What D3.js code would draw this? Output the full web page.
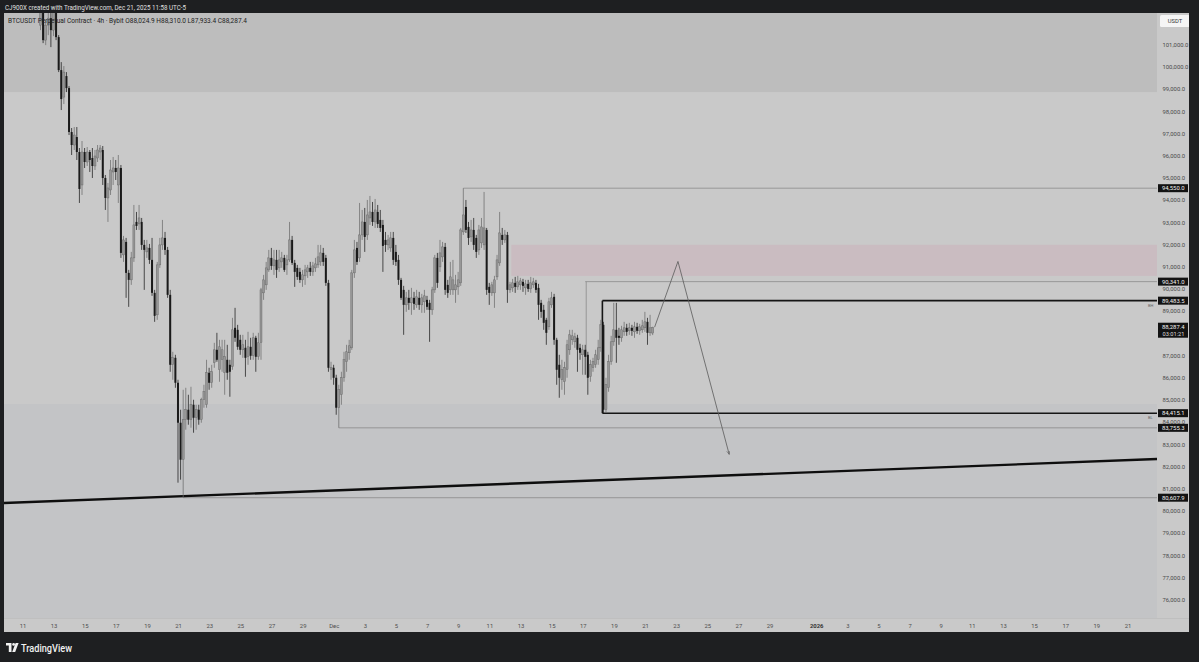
<!DOCTYPE html>
<html><head><meta charset="utf-8">
<script src="https://cdn.jsdelivr.net/npm/d3@7"></script>
<style>body{margin:0;background:#1e1f21;overflow:hidden}svg{display:block}text{font-family:Roboto,"Noto Sans",sans-serif}</style>
</head><body>
<svg id="c" width="1199" height="662"></svg>
<script>
// ---------- DATA ----------
const firstCandle = [2025, 10, 12, 3]; // Nov 12 2025 03:00, 4h candles
const opens = [101895,102480,101220,101895,102210,101670,102480,101355,99870,98655,99600,99060,97080,96495,96855,96180,94695,96180,95730,96180,95910,95550,95910,96180,96270,95010,94110,94470,95280,95460,94695,95460,91545,92130,90735,90420,91410,93030,92940,93030,91995,91680,91860,91320,89835,88845,91095,91995,92310,91770,89745,86595,86910,85785,83985,82320,84120,84570,84120,84795,84210,84570,84120,85020,84795,86235,85785,86685,87270,86370,86820,86235,86820,86595,86505,88260,88170,87720,87270,87360,86955,87405,87000,87810,86955,87600,89835,90195,90870,91410,91050,91320,90960,91230,91410,91095,91320,92220,91185,90960,90780,90420,90600,90780,90960,90780,90960,91095,91230,91635,91410,90285,86370,86460,86010,84660,85245,86010,86730,87135,87360,90735,91860,91410,92445,93030,92445,93210,93480,93030,93480,93120,92895,92220,91995,91860,92310,91680,91320,90420,89970,89295,89610,89385,89610,89295,89610,89295,89430,89520,89385,89070,89970,91410,91005,91455,91905,90195,89970,89970,89970,90105,90285,92580,93705,92805,92355,92670,92310,91770,92085,91995,92670,90105,89835,89835,90555,91185,92445,92220,92445,89970,90060,90285,90105,90195,90330,90060,90240,90015,90195,90285,90060,89385,89070,88620,88305,89295,89655,87720,86595,85920,85830,86370,87270,87720,87630,87810,87360,87045,87270,87045,86055,86460,86595,86820,87360,88395,84570,85560,86730,87630,88170,87900,87810,88080,88260,88125,88260,88080,88305,88125,88170,88260,88530,88035,88024.9];
const highs = [102795,102660,102120,102480,102570,102795,102660,101445,100230,100050,99780,99150,97260,97305,97305,96360,96675,96360,96405,96270,96360,96270,96495,96495,96450,95145,94785,95820,95955,95820,96045,95595,92400,92310,90870,91680,93795,93480,93795,93210,92220,92220,92040,92310,89970,91230,92310,93120,92580,91905,89970,87180,87045,85920,84570,85470,85560,85245,85605,85020,84795,84795,85110,85695,86820,86460,86595,87585,88035,87720,87720,87720,87495,86820,88710,89160,88395,87945,87945,87720,88080,87810,88035,87900,88035,90060,90645,91230,91770,91860,91770,91770,91770,91680,91545,91545,93030,92400,91320,91095,90960,90870,91095,91095,91230,91230,91410,91995,91995,91860,91545,90420,86730,86595,86145,85695,86280,87180,87495,87720,90870,92220,92130,93885,93570,93660,94020,94200,93930,94065,93795,93570,93120,92580,92445,92580,92580,91995,91545,90510,90150,89880,89970,90060,89880,89970,89880,89790,89970,89700,89520,90105,91545,91635,92220,92130,92085,90420,91230,91320,90645,90780,92760,94550,94020,93030,93120,93210,92445,92895,93210,94380,92760,90285,90330,90600,91545,93480,92760,92670,92580,90330,90465,90555,90600,90510,90465,90420,90420,90555,90510,90420,90240,89520,89295,88710,89610,89880,89790,87810,87045,86820,86730,87720,88170,88170,88035,87945,87540,87495,87495,87180,86820,86910,87270,87720,88620,88530,86010,87045,87900,89385,89385,88260,88350,88530,88440,88485,88395,88530,88485,88440,88620,88980,88710,88845,88310.0];
const lows = [101670,101085,100995,101445,100905,101400,101220,99780,98070,98340,98880,96945,96045,96270,95820,93885,94245,95460,95550,95280,95010,95370,95730,95820,94695,93570,93030,94245,94695,94920,93885,91410,91230,89610,89205,90195,91230,92670,92670,91770,89970,91410,91140,89700,88530,88620,90960,91770,91545,89610,86280,85920,85560,81285,81420,80607.9,83670,83895,83760,83535,83670,83895,83985,84660,84660,85470,85560,86460,86730,85830,86280,85245,85920,85155,86370,87630,87270,87045,86910,86055,86595,86820,86820,86280,86820,86820,89520,89970,90780,90870,90645,90510,90780,90960,90780,90645,91230,91095,90105,90420,90285,90105,90195,90510,90600,90600,90780,90960,91050,91050,90150,86280,85920,85695,84345,83755.3,84795,85830,86280,86820,87270,90510,91095,91230,92220,91680,92220,92895,92850,92760,92760,92580,90780,91680,91770,91680,91095,91050,90195,89520,87945,88980,89070,88845,89070,89160,89070,88935,88935,89070,87630,88845,89835,90060,90780,91230,89745,89610,89745,89745,89385,89745,90150,92445,92535,91995,92130,91770,91410,91545,91860,91770,89745,89295,89700,89160,90420,91050,91995,92085,89385,89835,89880,89835,89970,89970,89880,89745,89880,89835,90060,89835,88620,88710,88170,87495,88170,89160,87495,85695,85110,85470,85245,86010,87045,87495,87360,86280,86820,86145,86145,85245,85830,86280,86460,86595,87180,84415.1,84435,85380,86595,87450,86685,87495,87630,87900,87900,87945,87900,87810,87990,87945,88035,88080,87495,87900,87933.4];
const closes = [102480,101220,101895,102210,101670,102480,101355,99870,98565,99780,99060,97080,96495,96945,96180,94515,96180,95730,96180,95820,95550,96000,96270,96360,95010,94110,94560,95370,95460,95280,95460,91635,92220,90735,90420,91410,92895,92850,93210,91995,91770,91860,91320,89835,88800,91095,91995,92310,91770,89745,86595,86910,85785,83985,82320,84120,84570,84120,84795,84210,84570,84120,85020,85380,86235,85785,86280,87270,86820,87405,87270,86955,86235,86280,88170,87810,87405,87270,87495,86910,87405,87000,87810,86955,87585,89970,90420,90960,91410,91050,91320,90870,91320,91410,90870,91320,92220,91185,90780,90555,90420,90645,90870,90960,90780,91050,91140,91455,91635,91230,90285,86460,86460,86010,84660,85470,86010,86820,87180,87450,90735,91770,91230,92445,93030,92355,93345,93480,93030,93570,92940,92760,91950,91995,92220,92310,91320,91230,90420,89610,89295,89610,89385,89610,89340,89655,89295,89610,89700,89205,89070,89970,91410,90285,91635,91905,89970,89835,90555,90420,90195,90420,92670,93345,92670,92310,92670,91995,91680,92670,92805,92760,89970,89835,90195,90420,91320,92535,92220,92445,89970,90195,90285,90105,90330,90375,90150,90240,90015,90285,90330,89970,89295,88980,88485,88035,89430,89610,87720,86370,86010,86370,86460,87495,87945,87900,87855,87270,87135,87270,86955,86010,86595,86730,87045,87360,88395,84570,85695,86730,87630,88170,87810,87810,88170,88260,88080,88260,88125,88305,88125,88305,88350,88530,88035,88260,88287.4];

const priceTicks = [76000,77000,78000,79000,80000,81000,82000,83000,84000,85000,86000,87000,88000,89000,90000,91000,92000,93000,94000,95000,96000,97000,98000,99000,100000,101000];
const dateTicks = ["2025-11-11","2025-11-13","2025-11-15","2025-11-17","2025-11-19","2025-11-21","2025-11-23","2025-11-25","2025-11-27","2025-11-29","2025-12-01","2025-12-03","2025-12-05","2025-12-07","2025-12-09","2025-12-11","2025-12-13","2025-12-15","2025-12-17","2025-12-19","2025-12-21","2025-12-23","2025-12-25","2025-12-27","2025-12-29","2026-01-01","2026-01-03","2026-01-05","2026-01-07","2026-01-09","2026-01-11","2026-01-13","2026-01-15","2026-01-17","2026-01-19","2026-01-21"];
const dateLabels = ["11","13","15","17","19","21","23","25","27","29","Dec","3","5","7","9","11","13","15","17","19","21","23","25","27","29","2026","3","5","7","9","11","13","15","17","19","21"];

// zones
const topZone = [98880, 104000];
const lowerZone = [70000, 84830];
const pinkZone = {start: "2025-12-12T09:00", low: 90600, high: 92000};
// horizontal levels: price, starting candle index
const levelPrices = [94550, 90341, 89483.5, 84415.1, 83755.3, 80607.9];
const levelStart = [163, 210, 217, 217, 115, 55];
const levelHeavy = [false, false, true, true, false, false];
const swingDrop = {idx: 210, from: 90341, to: 86950};
const boxRange = {idx: 217, top: 89483.5, bottom: 84415.1};
// trend line
const trendDates = ["2025-11-09T00:00", "2026-01-24T00:00"];
const trendPrices = [80350, 82380];
// projection path
const projDates = ["2025-12-21T14:00", "2025-12-23T02:00", "2025-12-26T09:00"];
const projPrices = [88290, 91250, 82560];
const lastPrice = 88287.4, countdown = "03:01:21";

// ---------- LAYOUT ----------
const W = 1199, H = 662;
const P = {l: 4, r: 1157, t: 13, b: 618};
const x = d3.scaleTime().domain([new Date(2025,10,11), new Date(2026,0,21)]).range([23, 1128]);
const y = d3.scaleLinear().domain([76000, 101000]).range([600, 45]);
const t0 = new Date(...firstCandle);
const candles = opens.map((o,i)=>({t:new Date(t0.getTime()+i*4*3600e3), o, h:highs[i], l:lows[i], c:closes[i]}));
const ct = i => candles[i].t;

const svg = d3.select("#c");
svg.append("rect").attr("width",W).attr("height",H).attr("fill","#1e1f21");
svg.append("rect").attr("x",4).attr("y",13).attr("width",1185).attr("height",619).attr("fill","#c9c9c9");
const defs = svg.append("defs");
defs.append("clipPath").attr("id","plot").append("rect").attr("x",P.l).attr("y",P.t).attr("width",P.r-P.l).attr("height",P.b-P.t);
defs.append("marker").attr("id","arr").attr("viewBox","0 0 10 10").attr("refX",9).attr("refY",5)
  .attr("markerWidth",5).attr("markerHeight",5).attr("orient","auto")
  .append("path").attr("d","M0,1 L9,5 L0,9").attr("fill","none").attr("stroke","#555").attr("stroke-width",1.3);

const g = svg.append("g").attr("clip-path","url(#plot)");
// zones
g.append("rect").attr("x",P.l).attr("width",P.r-P.l).attr("y",y(topZone[1])).attr("height",y(topZone[0])-y(topZone[1])).attr("fill","#bdbdbd");
g.append("rect").attr("x",P.l).attr("width",P.r-P.l).attr("y",y(lowerZone[1])).attr("height",y(lowerZone[0])-y(lowerZone[1])).attr("fill","#c3c4c6");
const px = x(new Date(pinkZone.start));
g.append("rect").attr("x",px).attr("width",P.r-px).attr("y",y(pinkZone.high)).attr("height",y(pinkZone.low)-y(pinkZone.high)).attr("fill","#cabcc1");

// legend text (under candles)
svg.append("text").attr("x",8).attr("y",22.5).attr("font-size",6.4).attr("fill","#222")
  .attr("textLength",239).attr("lengthAdjust","spacingAndGlyphs")
  .text("BTCUSDT Perpetual Contract · 4h · Bybit  O88,024.9  H88,310.0  L87,933.4  C88,287.4");

// levels
levelPrices.forEach((p,k)=>{
  const x0 = x(ct(levelStart[k])) - (levelHeavy[k]?1:0);
  g.append("line").attr("x1",x0).attr("x2",P.r).attr("y1",y(p)).attr("y2",y(p))
    .attr("stroke",levelHeavy[k]?"#151515":"#8a8a8a").attr("stroke-width",levelHeavy[k]?1.6:0.8);
});
g.append("line").attr("x1",x(ct(swingDrop.idx))+1).attr("x2",x(ct(swingDrop.idx))+1)
  .attr("y1",y(swingDrop.from)).attr("y2",y(swingDrop.to)).attr("stroke","#8a8a8a").attr("stroke-width",0.8);
g.append("line").attr("x1",x(ct(boxRange.idx))-1).attr("x2",x(ct(boxRange.idx))-1)
  .attr("y1",y(boxRange.top)).attr("y2",y(boxRange.bottom)).attr("stroke","#151515").attr("stroke-width",1.6);
// trend line
g.append("line").attr("x1",x(new Date(trendDates[0]))).attr("y1",y(trendPrices[0]))
  .attr("x2",x(new Date(trendDates[1]))).attr("y2",y(trendPrices[1]))
  .attr("stroke","#0e0e0e").attr("stroke-width",2.4);

// candles
const cg = g.append("g");
const bw = 2.0;
cg.selectAll("line.w").data(candles).join("line").attr("class","w")
  .attr("x1",d=>x(d.t)).attr("x2",d=>x(d.t)).attr("y1",d=>y(d.h)).attr("y2",d=>y(d.l))
  .attr("stroke",d=>d.c>=d.o?"#6c6c6c":"#1c1c1c").attr("stroke-width",0.75);
cg.selectAll("rect.b").data(candles).join("rect").attr("class","b")
  .attr("x",d=>x(d.t)-bw/2).attr("width",bw)
  .attr("y",d=>y(Math.max(d.o,d.c))).attr("height",d=>Math.max(0.8,Math.abs(y(d.o)-y(d.c))))
  .attr("fill",d=>d.c>=d.o?"#979797":"#1a1a1a")
  .attr("stroke",d=>d.c>=d.o?"#626262":"none").attr("stroke-width",0.4);

// projection
g.append("path").datum(projDates.map((d,i)=>[x(new Date(d)), y(projPrices[i])]))
  .attr("d",d3.line()).attr("fill","none").attr("stroke","#5a5a5a").attr("stroke-width",0.8)
  .attr("marker-end","url(#arr)");

// BH / BL
svg.append("text").attr("x",1148).attr("y",y(boxRange.top)+6).attr("font-size",4).attr("fill","#666").text("BH");
svg.append("text").attr("x",1148).attr("y",y(boxRange.bottom)+6).attr("font-size",4).attr("fill","#666").text("BL");

// price axis
const fmt = d3.format(",.1f");
svg.append("g").selectAll("text").data(priceTicks).join("text")
  .attr("x",1162.5).attr("y",d=>y(d)+2).attr("font-size",5.9).attr("fill","#4a4a4a").text(d=>fmt(d));
// tags
levelPrices.forEach(p=>{
  svg.append("rect").attr("x",1158).attr("y",y(p)-4).attr("width",30).attr("height",8).attr("fill","#131313");
  svg.append("text").attr("x",1162).attr("y",y(p)+2).attr("font-size",5.9).attr("fill","#f2f2f2").text(fmt(p));
});
svg.append("rect").attr("x",1158).attr("y",y(lastPrice)-4.5).attr("width",30).attr("height",15).attr("fill","#131313");
svg.append("text").attr("x",1162).attr("y",y(lastPrice)+2).attr("font-size",5.9).attr("fill","#f2f2f2").text(fmt(lastPrice));
svg.append("text").attr("x",1162.5).attr("y",y(lastPrice)+8.5).attr("font-size",5.7).attr("fill","#dcdcdc").text(countdown);
// USDT button
svg.append("rect").attr("x",1160).attr("y",15).attr("width",30).attr("height",12).attr("rx",1.5).attr("fill","#f5f5f5");
svg.append("text").attr("x",1175).attr("y",23).attr("text-anchor","middle").attr("font-size",5.8).attr("fill","#333").text("USDT");

// time axis
svg.append("line").attr("x1",4).attr("x2",1189).attr("y1",618.5).attr("y2",618.5).attr("stroke","#b9b9b9").attr("stroke-width",0.6);
svg.append("g").selectAll("text").data(dateTicks).join("text")
  .attr("x",d=>x(new Date(d+"T00:00"))).attr("y",628).attr("text-anchor","middle")
  .attr("font-size",5.9).attr("font-weight",(d,i)=>dateLabels[i]==="2026"?"bold":"normal")
  .attr("fill",(d,i)=>dateLabels[i]==="2026"?"#333":"#4e4e4e").text((d,i)=>dateLabels[i]);

// right frame
svg.append("rect").attr("x",1189).attr("y",0).attr("width",10).attr("height",H).attr("fill","#1e1f21");

// header
svg.append("text").attr("x",5).attr("y",9.5).attr("font-size",6.5).attr("fill","#e0e0e0")
  .attr("textLength",181).attr("lengthAdjust","spacingAndGlyphs")
  .text("CJ900X created with TradingView.com, Dec 21, 2025 11:58 UTC-5");

// TradingView logo
const lg = svg.append("g").attr("transform","translate(6,643)");
lg.append("path").attr("d","M0,0 H5.5 V9 H2.8 V2.6 H0 Z").attr("fill","#f2f2f2");
lg.append("circle").attr("cx",7.6).attr("cy",1.4).attr("r",1.4).attr("fill","#f2f2f2");
lg.append("path").attr("d","M9.6,0 H12.6 L9.2,9 H6.2 Z").attr("fill","#f2f2f2");
svg.append("text").attr("x",21).attr("y",652).attr("font-size",10.5).attr("font-weight",500).attr("fill","#f2f2f2")
  .attr("textLength",51).attr("lengthAdjust","spacingAndGlyphs").text("TradingView");
</script>
</body></html>
